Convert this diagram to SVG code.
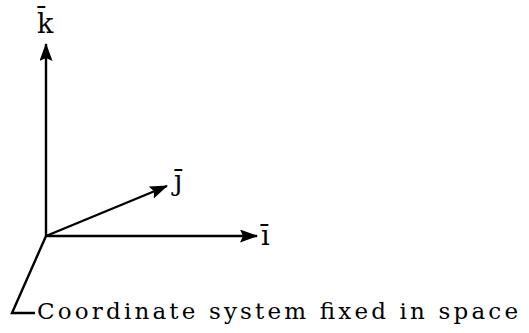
<svg xmlns="http://www.w3.org/2000/svg" width="529" height="333" viewBox="0 0 529 333">
<style>
.ax{stroke:#000;stroke-width:2.4;fill:none}
.lbl{font-family:"DejaVu Serif",serif;font-size:27px;fill:#000}
.cap{font-family:"DejaVu Serif",serif;font-size:23px;fill:#000}
</style>
<defs>
<marker id="ah" viewBox="0 0 18 13" refX="17" refY="6.5" markerWidth="18" markerHeight="13" markerUnits="userSpaceOnUse" orient="auto">
<path d="M0,0 L18,6.5 L0,13 L3,6.5 Z" fill="#000"/>
</marker>
</defs>
<rect width="529" height="333" fill="#fff"/>
<g id="connectors">
<line class="ax" x1="46" y1="236" x2="46" y2="44" marker-end="url(#ah)"/>
<line class="ax" x1="46" y1="236" x2="167" y2="186" marker-end="url(#ah)"/>
<line class="ax" x1="46" y1="236" x2="257" y2="236" marker-end="url(#ah)"/>
<polyline class="ax" points="46,236 12,313 35,313"/>
</g>
<g id="k-label"><text class="lbl" x="37" y="33">k̄</text></g>
<g id="j-label"><text class="lbl" x="174" y="190">ȷ̄</text></g>
<g id="i-label"><text class="lbl" x="261" y="245">ī</text></g>
<g id="caption"><text class="cap" x="37" y="319" textLength="481" lengthAdjust="spacing">Coordinate system fixed in space</text></g>
</svg>
